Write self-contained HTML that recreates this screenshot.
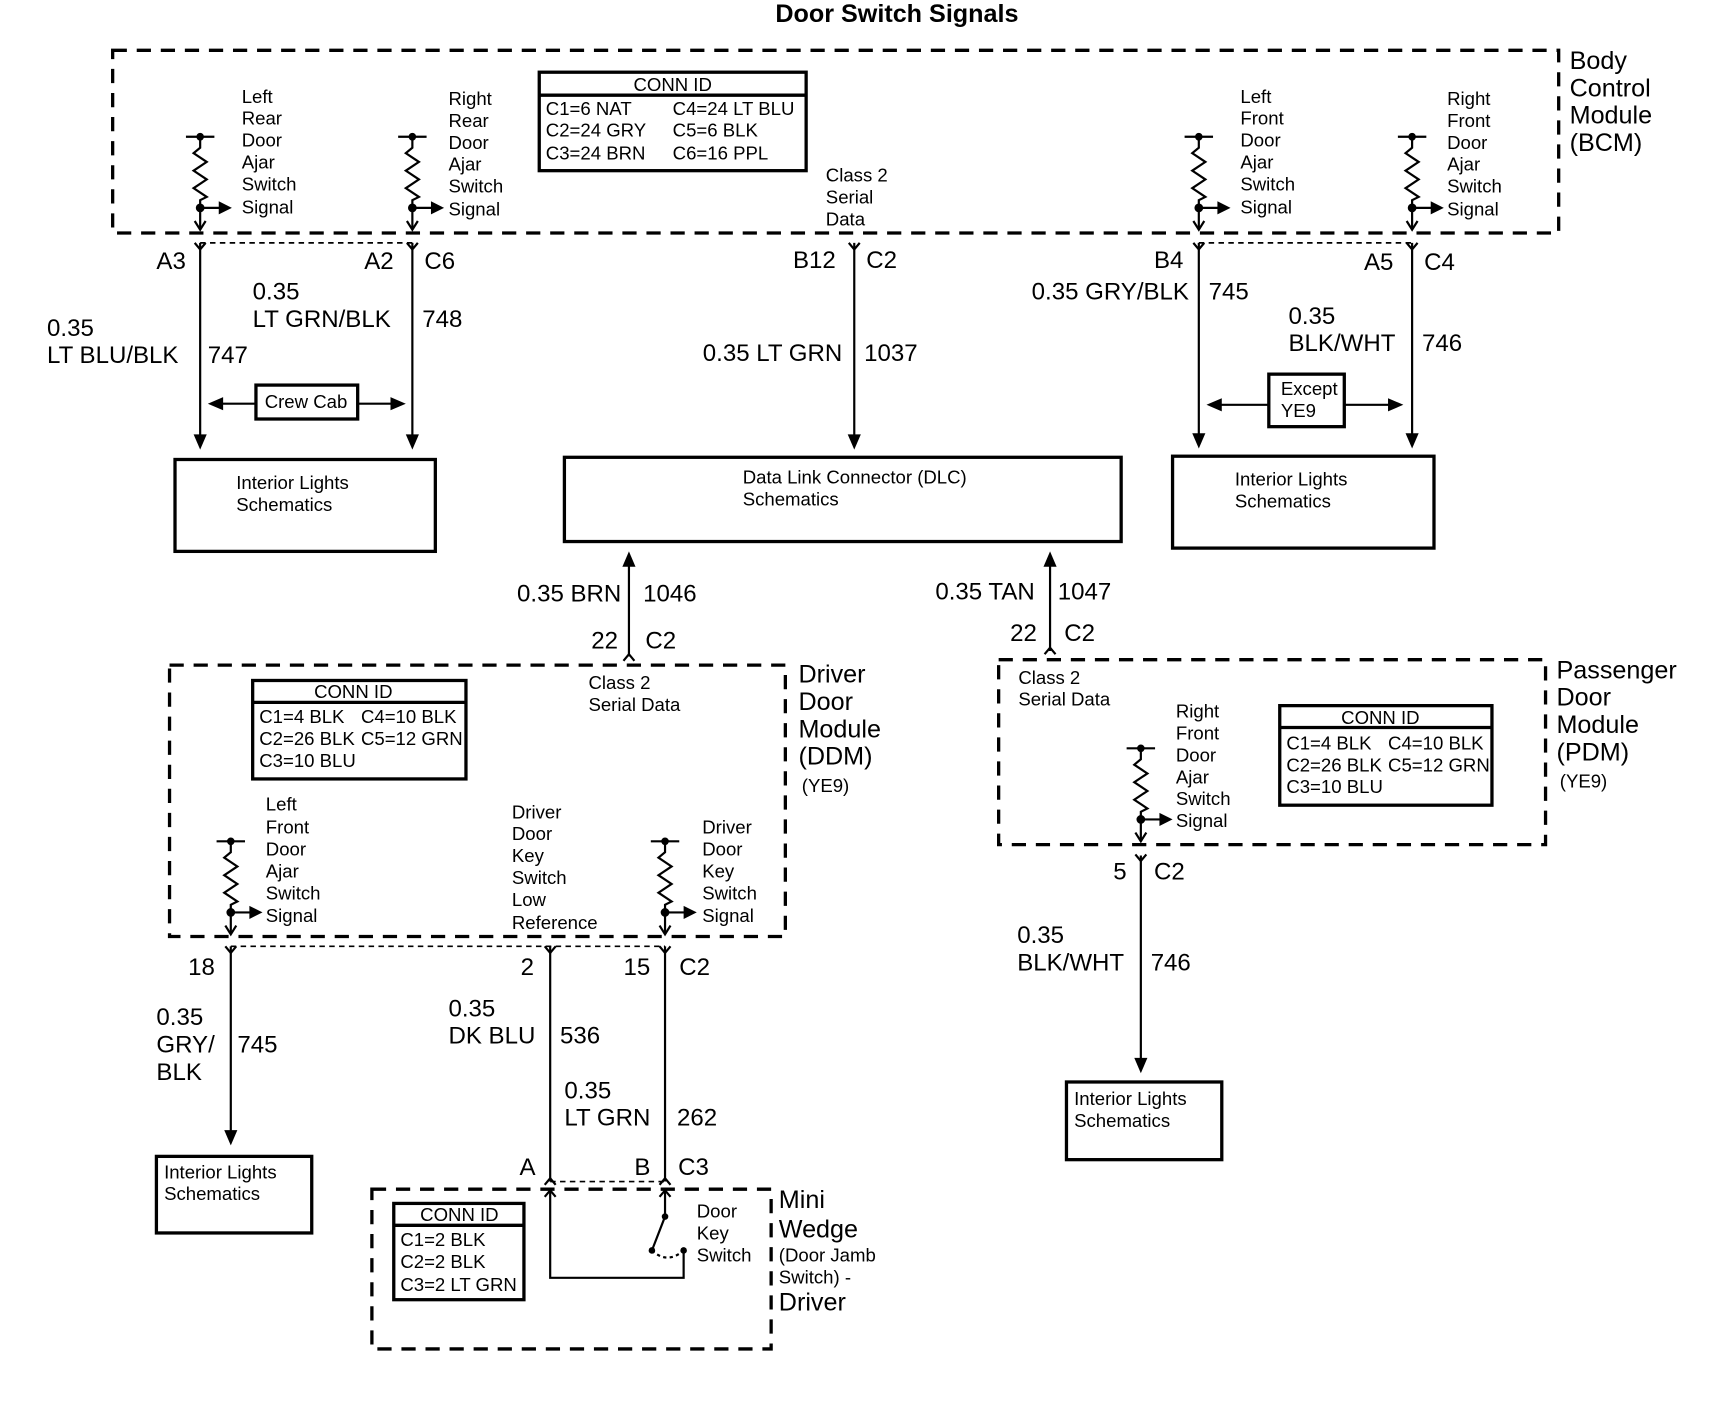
<!DOCTYPE html>
<html><head><meta charset="utf-8"><style>
html,body{margin:0;padding:0;background:#fff;}
svg{display:block;}
text{font-family:"Liberation Sans Narrow","Liberation Sans",sans-serif;fill:#000;}
.s{font-size:17px;}
.m{font-size:22px;}
.l{font-size:23px;}
</style></head><body>
<svg width="1714" height="1408" viewBox="0 0 1567 1287" preserveAspectRatio="none" xmlns="http://www.w3.org/2000/svg">
<defs>
<g id="sw" fill="none" stroke="#000" stroke-width="2">
<line x1="-13" y1="0" x2="13" y2="0"/>
<circle cx="0" cy="0" r="2.5" fill="#000"/>
<path d="M0,0 V10 L-6,15 L6,23 L-6,31 L6,39 L-6,47 L6,55 L0,58 V84"/>
<circle cx="0" cy="65" r="3" fill="#000"/>
<line x1="0" y1="65" x2="18" y2="65"/>
<polygon points="17,59 29,65 17,71" fill="#000" stroke="none"/>
<path d="M-5,77 L0,85 L5,77"/>
</g>
<g id="yd" fill="none" stroke="#000" stroke-width="2"><path d="M-5,-6 L0,0 L5,-6"/></g>
<g id="yu" fill="none" stroke="#000" stroke-width="2"><path d="M-5,6 L0,0 L5,6"/></g>
</defs>
<rect width="1567" height="1287" fill="#fff"/>
<text x="820" y="20" text-anchor="middle" style="font-size:23px;font-weight:bold">Door Switch Signals</text>

<g fill="none" stroke="#000">
<rect x="103" y="46" width="1322" height="167" stroke-width="3" stroke-dasharray="13,9"/>
<rect x="155" y="608" width="563" height="248" stroke-width="3" stroke-dasharray="13,9"/>
<rect x="913" y="603" width="500" height="169" stroke-width="3" stroke-dasharray="13,9"/>
<rect x="340" y="1087" width="365" height="146" stroke-width="3" stroke-dasharray="13,9"/>
<g stroke-width="1.5" stroke-dasharray="5,4">
<line x1="183" y1="222" x2="377" y2="222"/>
<line x1="1096" y1="222" x2="1291" y2="222"/>
<line x1="211" y1="865" x2="608" y2="865"/>
<line x1="503" y1="1080" x2="608" y2="1080"/>
</g>
<g stroke-width="3">
<rect x="493" y="66" width="244" height="90"/><line x1="493" y1="87" x2="737" y2="87"/>
<rect x="231" y="622" width="195" height="90"/><line x1="231" y1="642" x2="426" y2="642"/>
<rect x="1170" y="645" width="194" height="91"/><line x1="1170" y1="665" x2="1364" y2="665"/>
<rect x="360" y="1100" width="119" height="88"/><line x1="360" y1="1120" x2="479" y2="1120"/>
<rect x="160" y="420" width="238" height="84"/>
<rect x="516" y="418" width="509" height="77"/>
<rect x="1072" y="417" width="239" height="84"/>
<rect x="143" y="1057" width="142" height="70"/>
<rect x="975" y="989" width="142" height="71"/>
<rect x="234" y="352" width="93" height="31"/>
<rect x="1160" y="342" width="69" height="48"/>
</g>
<g stroke-width="2">
<line x1="183" y1="222" x2="183" y2="398"/>
<line x1="377" y1="222" x2="377" y2="398"/>
<line x1="781" y1="222" x2="781" y2="398"/>
<line x1="1096" y1="222" x2="1096" y2="397"/>
<line x1="1291" y1="222" x2="1291" y2="397"/>
<line x1="200" y1="369" x2="234" y2="369"/>
<line x1="327" y1="369" x2="360" y2="369"/>
<line x1="1113" y1="370" x2="1160" y2="370"/>
<line x1="1229" y1="370" x2="1272" y2="370"/>
<line x1="575" y1="515" x2="575" y2="600"/>
<line x1="960" y1="515" x2="960" y2="595"/>
<line x1="211" y1="865" x2="211" y2="1035"/>
<line x1="503" y1="865" x2="503" y2="1080"/>
<line x1="608" y1="865" x2="608" y2="1080"/>
<line x1="1043" y1="782" x2="1043" y2="970"/>
<path d="M503,1087 V1168 H625 V1143"/>
<path d="M608,1087 V1112 L596,1143"/>
<path d="M596,1143 Q610,1156 625,1143" stroke-dasharray="3,3"/>
</g>
</g>
<g fill="#000">
<polygon points="177,397 189,397 183,411"/>
<polygon points="371,397 383,397 377,411"/>
<polygon points="775,397 787,397 781,411"/>
<polygon points="1090,396 1102,396 1096,410"/>
<polygon points="1285,396 1297,396 1291,410"/>
<polygon points="204,363 204,375 190,369"/>
<polygon points="357,363 357,375 371,369"/>
<polygon points="1117,364 1117,376 1103,370"/>
<polygon points="1269,364 1269,376 1283,370"/>
<polygon points="569,518 581,518 575,504"/>
<polygon points="954,518 966,518 960,504"/>
<polygon points="205,1033 217,1033 211,1047"/>
<polygon points="1037,967 1049,967 1043,981"/>
<circle cx="608" cy="1112" r="3"/><circle cx="596" cy="1143" r="3"/><circle cx="625" cy="1143" r="3"/>
</g>
<use href="#sw" x="183" y="125"/><use href="#sw" x="377" y="125"/>
<use href="#sw" x="1096" y="125"/><use href="#sw" x="1291" y="125"/>
<use href="#sw" x="211" y="769"/><use href="#sw" x="608" y="769"/>
<use href="#sw" x="1043" y="684"/>
<use href="#yd" x="183" y="228"/><use href="#yd" x="377" y="228"/><use href="#yd" x="781" y="228"/>
<use href="#yd" x="1096" y="228"/><use href="#yd" x="1291" y="228"/>
<use href="#yd" x="211" y="871"/><use href="#yd" x="503" y="871"/><use href="#yd" x="608" y="871"/>
<use href="#yd" x="1043" y="787"/>
<use href="#yu" x="575" y="598"/><use href="#yu" x="960" y="592"/>
<use href="#yu" x="503" y="1077"/><use href="#yu" x="608" y="1077"/>
<use href="#yu" x="503" y="1088"/><use href="#yu" x="608" y="1088"/>

<g class="s">
<text x="221" y="94">Left</text><text x="221" y="114">Rear</text><text x="221" y="134">Door</text><text x="221" y="154">Ajar</text><text x="221" y="174">Switch</text><text x="221" y="195">Signal</text>
<text x="410" y="96">Right</text><text x="410" y="116">Rear</text><text x="410" y="136">Door</text><text x="410" y="156">Ajar</text><text x="410" y="176">Switch</text><text x="410" y="197">Signal</text>
<text x="1134" y="94">Left</text><text x="1134" y="114">Front</text><text x="1134" y="134">Door</text><text x="1134" y="154">Ajar</text><text x="1134" y="174">Switch</text><text x="1134" y="195">Signal</text>
<text x="1323" y="96">Right</text><text x="1323" y="116">Front</text><text x="1323" y="136">Door</text><text x="1323" y="156">Ajar</text><text x="1323" y="176">Switch</text><text x="1323" y="197">Signal</text>
<text x="755" y="166">Class 2</text><text x="755" y="186">Serial</text><text x="755" y="206">Data</text>
<text x="615" y="83" text-anchor="middle">CONN ID</text>
<text x="499" y="105">C1=6 NAT</text><text x="615" y="105">C4=24 LT BLU</text>
<text x="499" y="125">C2=24 GRY</text><text x="615" y="125">C5=6 BLK</text>
<text x="499" y="146">C3=24 BRN</text><text x="615" y="146">C6=16 PPL</text>
<text x="242" y="373">Crew Cab</text>
<text x="1171" y="361">Except</text><text x="1171" y="381">YE9</text>
<text x="216" y="447">Interior Lights</text><text x="216" y="467">Schematics</text>
<text x="679" y="442">Data Link Connector (DLC)</text><text x="679" y="462">Schematics</text>
<text x="1129" y="444">Interior Lights</text><text x="1129" y="464">Schematics</text>
<text x="323" y="638" text-anchor="middle">CONN ID</text>
<text x="237" y="661">C1=4 BLK</text><text x="330" y="661">C4=10 BLK</text>
<text x="237" y="681">C2=26 BLK</text><text x="330" y="681">C5=12 GRN</text>
<text x="237" y="701">C3=10 BLU</text>
<text x="538" y="630">Class 2</text><text x="538" y="650">Serial Data</text>
<text x="243" y="741">Left</text><text x="243" y="762">Front</text><text x="243" y="782">Door</text><text x="243" y="802">Ajar</text><text x="243" y="822">Switch</text><text x="243" y="843">Signal</text>
<text x="468" y="748">Driver</text><text x="468" y="768">Door</text><text x="468" y="788">Key</text><text x="468" y="808">Switch</text><text x="468" y="828">Low</text><text x="468" y="849">Reference</text>
<text x="642" y="762">Driver</text><text x="642" y="782">Door</text><text x="642" y="802">Key</text><text x="642" y="822">Switch</text><text x="642" y="843">Signal</text>
<text x="733" y="724">(YE9)</text>
<text x="150" y="1077">Interior Lights</text><text x="150" y="1097">Schematics</text>
<text x="420" y="1116" text-anchor="middle">CONN ID</text>
<text x="366" y="1139">C1=2 BLK</text><text x="366" y="1159">C2=2 BLK</text><text x="366" y="1180">C3=2 LT GRN</text>
<text x="637" y="1113">Door</text><text x="637" y="1133">Key</text><text x="637" y="1153">Switch</text>
<text x="712" y="1153">(Door Jamb</text><text x="712" y="1173">Switch) -</text>
<text x="931" y="625">Class 2</text><text x="931" y="645">Serial Data</text>
<text x="1075" y="656">Right</text><text x="1075" y="676">Front</text><text x="1075" y="696">Door</text><text x="1075" y="716">Ajar</text><text x="1075" y="736">Switch</text><text x="1075" y="756">Signal</text>
<text x="1262" y="662" text-anchor="middle">CONN ID</text>
<text x="1176" y="685">C1=4 BLK</text><text x="1269" y="685">C4=10 BLK</text>
<text x="1176" y="705">C2=26 BLK</text><text x="1269" y="705">C5=12 GRN</text>
<text x="1176" y="725">C3=10 BLU</text>
<text x="1426" y="720">(YE9)</text>
<text x="982" y="1010">Interior Lights</text><text x="982" y="1030">Schematics</text>
</g>
<g class="l">
<text x="1435" y="63">Body</text><text x="1435" y="88">Control</text><text x="1435" y="113">Module</text><text x="1435" y="138">(BCM)</text>
<text x="730" y="624">Driver</text><text x="730" y="649">Door</text><text x="730" y="674">Module</text><text x="730" y="699">(DDM)</text>
<text x="1423" y="620">Passenger</text><text x="1423" y="645">Door</text><text x="1423" y="670">Module</text><text x="1423" y="695">(PDM)</text>
<text x="712" y="1104">Mini</text><text x="712" y="1131">Wedge</text><text x="712" y="1198">Driver</text>
</g>
<g class="m">
<text x="143" y="246">A3</text><text x="333" y="246">A2</text><text x="388" y="246">C6</text>
<text x="725" y="245">B12</text><text x="792" y="245">C2</text>
<text x="1055" y="245">B4</text><text x="1247" y="247">A5</text><text x="1302" y="247">C4</text>
<text x="43" y="307">0.35</text><text x="43" y="332">LT BLU/BLK</text><text x="190" y="332">747</text>
<text x="231" y="274">0.35</text><text x="231" y="299">LT GRN/BLK</text><text x="386" y="299">748</text>
<text x="770" y="330" text-anchor="end">0.35 LT GRN</text><text x="790" y="330">1037</text>
<text x="1087" y="274" text-anchor="end">0.35 GRY/BLK</text><text x="1105" y="274">745</text>
<text x="1178" y="296">0.35</text><text x="1178" y="321">BLK/WHT</text><text x="1300" y="321">746</text>
<text x="568" y="550" text-anchor="end">0.35 BRN</text><text x="588" y="550">1046</text>
<text x="565" y="593" text-anchor="end">22</text><text x="590" y="593">C2</text>
<text x="946" y="548" text-anchor="end">0.35 TAN</text><text x="967" y="548">1047</text>
<text x="948" y="586" text-anchor="end">22</text><text x="973" y="586">C2</text>
<text x="172" y="891">18</text><text x="476" y="891">2</text><text x="570" y="891">15</text><text x="621" y="891">C2</text>
<text x="143" y="937">0.35</text><text x="143" y="962">GRY/</text><text x="143" y="987">BLK</text><text x="217" y="962">745</text>
<text x="410" y="929">0.35</text><text x="410" y="954">DK BLU</text><text x="512" y="954">536</text>
<text x="516" y="1004">0.35</text><text x="516" y="1029">LT GRN</text><text x="619" y="1029">262</text>
<text x="475" y="1074">A</text><text x="580" y="1074">B</text><text x="620" y="1074">C3</text>
<text x="1030" y="804" text-anchor="end">5</text><text x="1055" y="804">C2</text>
<text x="930" y="862">0.35</text><text x="930" y="887">BLK/WHT</text><text x="1052" y="887">746</text>
</g>
</svg>
</body></html>
